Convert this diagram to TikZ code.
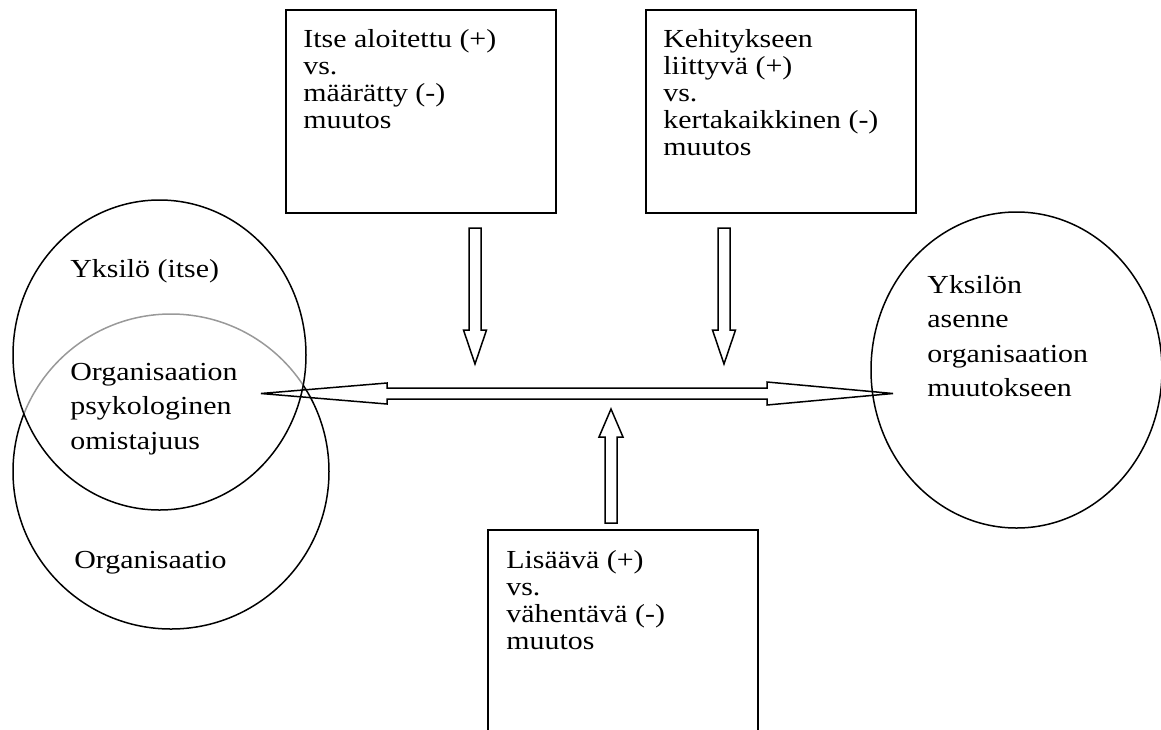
\documentclass[tikz,border=0pt]{standalone}
\usepackage{fontspec}
\setmainfont{Liberation Serif}[FakeStretch=1.15]
\usetikzlibrary{calc}

\tikzset{
  frame/.style={draw, line width=0.8pt, inner sep=0pt},
  ring/.style={line width=0.75pt},
  hollow/.style={draw, line width=0.75pt, line join=miter},
  boxtext/.style={anchor=base west, align=left, inner sep=0pt, font=\fontsize{13}{13.5}\selectfont},
  ringtext/.style={anchor=base west, align=left, inner sep=0pt, font=\fontsize{13}{17.25}\selectfont},
}

\begin{document}
\begin{tikzpicture}[x=0.5pt, y=-0.5pt]
    \useasboundingbox (0,0) rectangle (1161,729);
    \clip (0,0) rectangle (1161,729);

    % Circles
    \coordinate (self) at (159.5,355);
    \coordinate (orgc) at (171,471.5);
    \coordinate (attc) at (1016.5,370);
    \draw[ring] (orgc) ellipse [x radius=158, y radius=157.5];
    \fill[white, opacity=0.6] (self) ellipse [x radius=146.5, y radius=155];
    \draw[ring] (self) ellipse [x radius=146.5, y radius=155];
    \draw[ring] (attc) ellipse [x radius=145.5, y radius=158];

    % Boxes
    \node[frame, anchor=north west, minimum width=135pt, minimum height=101.5pt] (own) at (285,9) {};
    \node[frame, anchor=north west, minimum width=135pt, minimum height=101.5pt] (dev) at (645,9) {};
    \node[frame, anchor=north west, minimum width=135pt, minimum height=120pt] (add) at (487,529) {};

    % Arrow ends
    \coordinate (ownA) at (475,228);
    \coordinate (ownB) at (475,364);
    \coordinate (devA) at (724,228);
    \coordinate (devB) at (724,364);
    \coordinate (addA) at (611,523);
    \coordinate (addB) at (611,409);
    \coordinate (lt) at (261,393.5);
    \coordinate (rt) at (893,393.5);

    % Down arrows
    \draw[hollow] ($(ownA)+(-6,0)$) -- ($(ownB)+(-6,-34)$) -- ($(ownB)+(-11.5,-34)$) -- (ownB)
        -- ($(ownB)+(11.5,-34)$) -- ($(ownB)+(6,-34)$) -- ($(ownA)+(6,0)$) -- cycle;
    \draw[hollow] ($(devA)+(-6,0)$) -- ($(devB)+(-6,-34)$) -- ($(devB)+(-11.5,-34)$) -- (devB)
        -- ($(devB)+(11.5,-34)$) -- ($(devB)+(6,-34)$) -- ($(devA)+(6,0)$) -- cycle;

    % Up arrow
    \draw[hollow] ($(addA)+(-6,0)$) -- ($(addB)+(-6,28)$) -- ($(addB)+(-12,28)$) -- (addB)
        -- ($(addB)+(12,28)$) -- ($(addB)+(6,28)$) -- ($(addA)+(6,0)$) -- cycle;

    % Double arrow
    \draw[hollow] (lt) -- ($(lt)+(126,-10.5)$) -- ($(lt)+(126,-5.5)$) -- ($(rt)+(-126,-5.5)$)
        -- ($(rt)+(-126,-11.5)$) -- (rt) -- ($(rt)+(-126,11.5)$) -- ($(rt)+(-126,5.5)$)
        -- ($(lt)+(126,5.5)$) -- ($(lt)+(126,10.5)$) -- cycle;

    % Texts (placed at the baseline of their last line)
    \node[boxtext] (ownT) at (303,128) {Itse aloitettu (+)\\vs.\\määrätty (-)\\muutos};
    \node[boxtext] (devT) at (663,155) {Kehitykseen\\liittyvä (+)\\vs.\\kertakaikkinen (-)\\muutos};
    \node[boxtext] (addT) at (506,649) {Lisäävä (+)\\vs.\\vähentävä (-)\\muutos};
    \node[ringtext] (selfT) at (70,277) {Yksilö (itse)};
    \node[ringtext] (psyT) at (70,449) {Organisaation\\psykologinen\\omistajuus};
    \node[ringtext] (orgT) at (74,568) {Organisaatio};
    \node[ringtext] (attT) at (927,396.5) {Yksilön\\asenne\\organisaation\\muutokseen};
\end{tikzpicture}
\end{document}
